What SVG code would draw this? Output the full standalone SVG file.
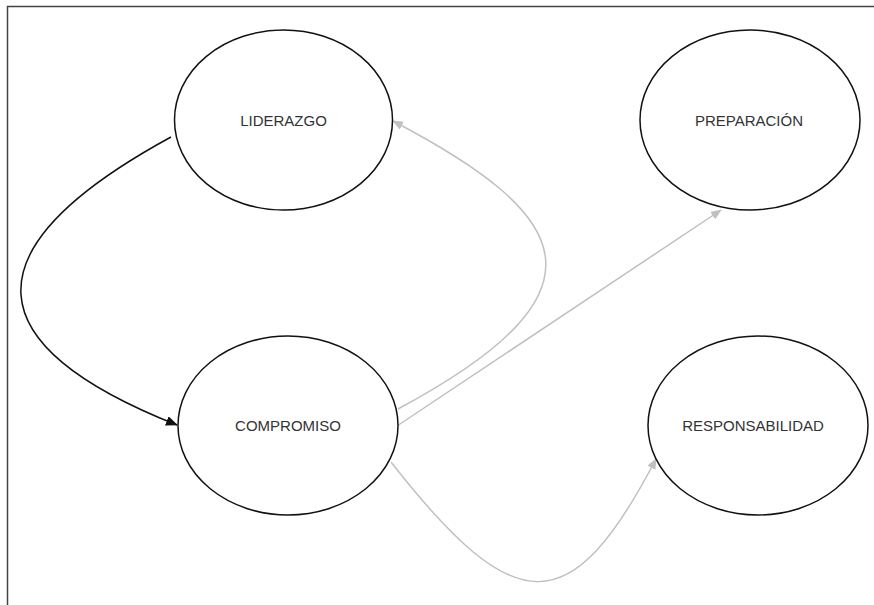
<svg xmlns="http://www.w3.org/2000/svg" width="874" height="605" viewBox="0 0 874 605">
  <defs>
    <style>
      .node ellipse { fill: #ffffff; stroke: #111111; stroke-width: 1.5; }
      .node text { font-family: "Liberation Sans", Arial, sans-serif; font-size: 15px; fill: #333333; text-anchor: middle; }
      .edge { fill: none; stroke-width: 1.5; }
      .dark { stroke: #111111; marker-end: url(#arrowDark); }
      .light { stroke: #c0c0c0; marker-end: url(#arrowLight); }
    </style>
    <marker id="arrowDark" markerUnits="userSpaceOnUse" markerWidth="12" markerHeight="10" viewBox="0 0 12 10" refX="11" refY="5" orient="auto">
      <path d="M0,0 L12,5 L0,10 Z" fill="#111111"/>
    </marker>
    <marker id="arrowLight" markerUnits="userSpaceOnUse" markerWidth="11" markerHeight="9" viewBox="0 0 11 9" refX="10" refY="4.5" orient="auto">
      <path d="M0,0 L11,4.5 L0,9 Z" fill="#c0c0c0"/>
    </marker>
  </defs>
  <rect x="0" y="0" width="874" height="605" fill="#ffffff"/>
  <path d="M874,6.5 L7.5,6.5 L7.5,605" fill="none" stroke="#444444" stroke-width="1.5"/>

  <g id="connectors">
    <path class="edge dark" d="M171,137 C-40,252 -20,347 177,425"/>
    <path class="edge light" d="M398,409 C620,290 570,214 393,121"/>
    <path class="edge light" d="M397,426 L721,210"/>
    <path class="edge light" d="M391,462 C516,622 571,622 656,459"/>
  </g>

  <g id="node-liderazgo" class="node">
    <ellipse cx="283.5" cy="120" rx="109" ry="90"/>
    <text x="283.5" y="125.5">LIDERAZGO</text>
  </g>
  <g id="node-preparacion" class="node">
    <ellipse cx="750" cy="120" rx="110" ry="90"/>
    <text x="749" y="125.5">PREPARACIÓN</text>
  </g>
  <g id="node-compromiso" class="node">
    <ellipse cx="288" cy="425.5" rx="110" ry="89.5"/>
    <text x="288" y="431">COMPROMISO</text>
  </g>
  <g id="node-responsabilidad" class="node">
    <ellipse cx="758" cy="425.5" rx="110" ry="89.5"/>
    <text x="753" y="431">RESPONSABILIDAD</text>
  </g>
</svg>
